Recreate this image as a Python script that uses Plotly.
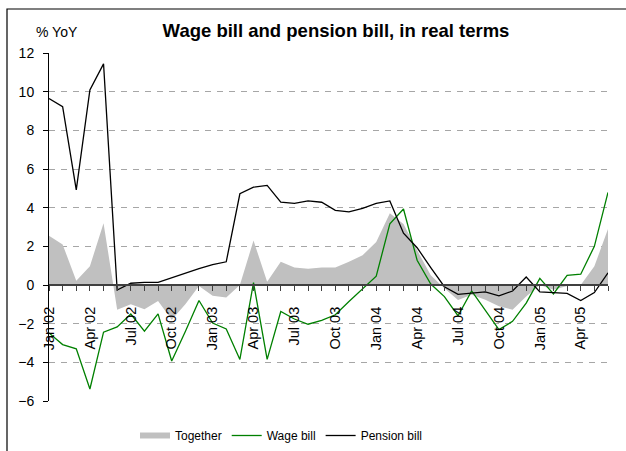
"""Wage bill and pension bill, in real terms (% YoY)."""

import plotly.graph_objects as go

TEXT = "#000000"
GRID = "#a6a6a6"
AREA = "#c0c0c0"
GREEN = "#008000"
BLACK = "#000000"
FONT = "Liberation Sans, Arial, sans-serif"

MONTHS = [
    "Jan 02", "", "", "Apr 02", "", "", "Jul 02", "", "", "Oct 02", "", "",
    "Jan 03", "", "", "Apr 03", "", "", "Jul 03", "", "", "Oct 03", "", "",
    "Jan 04", "", "", "Apr 04", "", "", "Jul 04", "", "", "Oct 04", "", "",
    "Jan 05", "", "", "Apr 05", "", "",
]

together = [
    2.55, 2.1, 0.22, 0.97, 3.2, -1.28, -1.0, -1.26, -0.83, -1.8, -1.0, -0.05,
    -0.55, -0.65, 0.0, 2.3, 0.17, 1.2, 0.9, 0.84, 0.9, 0.9, 1.2, 1.54,
    2.22, 3.71, 3.16, 1.8, 0.51, -0.17, -0.77, -0.5, -0.76, -1.1, -1.28, -0.59,
    0.0, -0.24, -0.05, 0.0, 0.97, 2.9,
]
wage_bill = [
    -2.48, -3.08, -3.3, -5.38, -2.44, -2.17, -1.5, -2.39, -1.49, -3.93, -2.4, -0.8,
    -1.97, -2.27, -3.85, 0.12, -3.85, -1.37, -1.76, -2.03, -1.83, -1.54, -0.85, -0.17,
    0.46, 3.16, 3.93, 1.28, 0.05, -0.6, -1.59, -0.31, -1.28, -2.31, -1.88, -0.94,
    0.34, -0.46, 0.5, 0.56, 2.0, 4.79,
]
pension_bill = [
    9.65, 9.22, 4.92, 10.09, 11.44, -0.26, 0.09, 0.14, 0.14, 0.38, 0.65, 0.85,
    1.06, 1.2, 4.72, 5.06, 5.15, 4.29, 4.22, 4.35, 4.28, 3.86, 3.78, 3.96,
    4.22, 4.35, 2.68, 1.93, 0.9, -0.09, -0.48, -0.41, -0.36, -0.56, -0.31, 0.41,
    -0.36, -0.39, -0.43, -0.8, -0.39, 0.63,
]

x = list(range(len(MONTHS)))

fig = go.Figure()
fig.add_trace(go.Scatter(x=x, y=together, name="Together", mode="none", fill="tozeroy", fillcolor=AREA))
fig.add_trace(go.Scatter(x=x, y=wage_bill, name="Wage bill", mode="lines", line=dict(color=GREEN, width=1.3)))
fig.add_trace(go.Scatter(x=x, y=pension_bill, name="Pension bill", mode="lines", line=dict(color=BLACK, width=1.3)))

fig.update_layout(
    width=626,
    height=451,
    margin=dict(l=49, r=18, t=53, b=50, autoexpand=False),
    paper_bgcolor="white",
    plot_bgcolor="white",
    font=dict(family=FONT, color=TEXT, size=14),
    title=dict(
        text="<b>Wage bill and pension bill, in real terms</b>",
        x=336 / 626,
        xanchor="center",
        y=1 - 31 / 451,
        yanchor="middle",
        font=dict(size=18.5, family=FONT, color=TEXT),
    ),
    xaxis=dict(
        range=[0, len(MONTHS) - 1],
        tickvals=x,
        ticktext=MONTHS,
        tickangle=-90,
        ticks="outside",
        ticklen=5,
        tickcolor="#404040",
        ticklabelstandoff=10,
        showline=True,
        linecolor="#404040",
        linewidth=2,
        showgrid=False,
        zeroline=False,
        anchor="free",
        position=1 / 3,
        automargin=False,
        tickfont=dict(size=14.5),
    ),
    yaxis=dict(
        range=[-6, 12],
        dtick=2,
        ticks="outside",
        ticklen=5,
        tickcolor=BLACK,
        ticklabelstandoff=6,
        showline=True,
        linecolor=BLACK,
        linewidth=1,
        showgrid=True,
        gridcolor=GRID,
        griddash="6px,6px",
        zeroline=False,
        automargin=False,
        tickfont=dict(size=14),
    ),
    legend=dict(
        orientation="h",
        xref="container",
        yref="container",
        x=135 / 626,
        xanchor="left",
        y=1 - 421 / 451,
        yanchor="top",
        font=dict(size=12),
        itemwidth=30,
        tracegroupgap=0,
    ),
    annotations=[
        dict(text="% YoY", xref="paper", yref="paper", x=(34 - 49) / 559, y=(401 - 32) / 348,
             xanchor="left", yanchor="middle", showarrow=False, font=dict(size=14)),
    ],
    shapes=[
        dict(type="rect", xref="paper", yref="paper", x0=(7 - 49) / 559, x1=1.2,
             y0=-0.3, y1=(401 - 9) / 348, line=dict(color=BLACK, width=1.2)),
    ],
)

fig.write_html(
    "out.html",
    config={"displayModeBar": False},
    post_script="document.body.style.margin='0px';",
)
